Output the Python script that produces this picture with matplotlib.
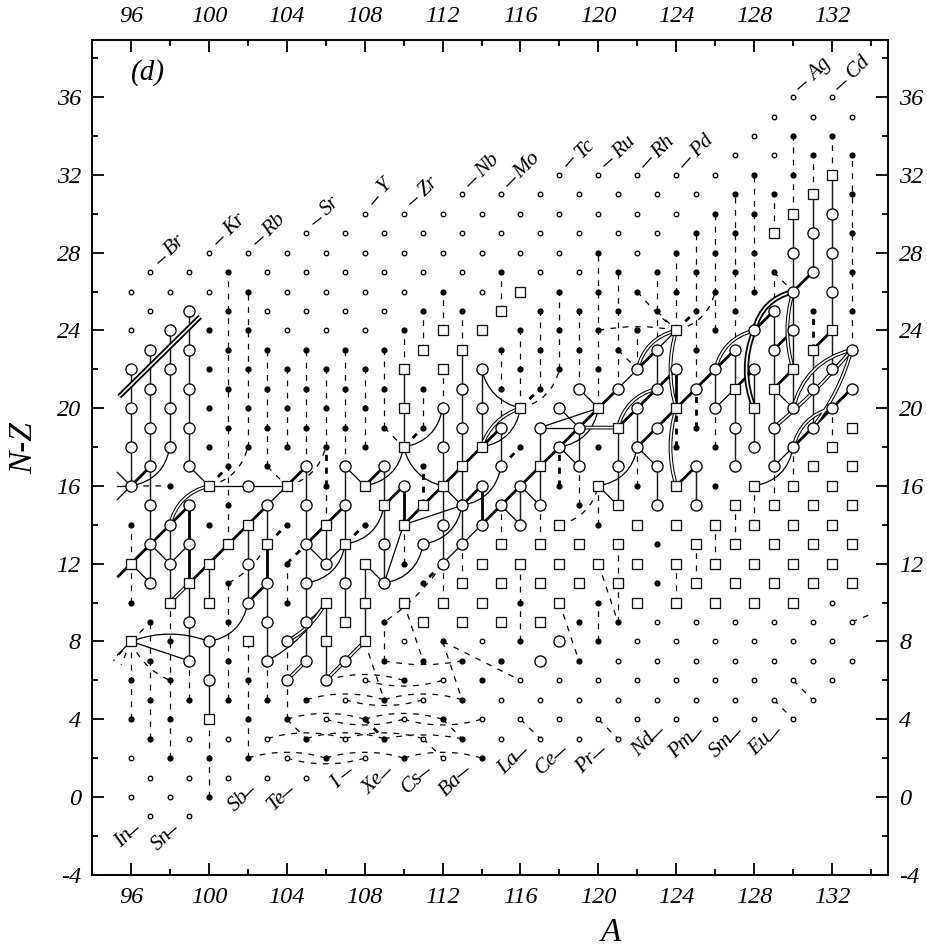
import matplotlib
matplotlib.use("Agg")
import matplotlib.pyplot as plt
from matplotlib.path import Path
from matplotlib.patches import PathPatch
from matplotlib.lines import Line2D

plt.rcParams['font.family'] = ['Liberation Serif', 'DejaVu Serif']
plt.rcParams['axes.unicode_minus'] = False

hollow = {96:[0,2,24,26],97:[-1,1,25,27],98:[0,26],99:[-1,1,3,27],100:[26,28],101:[1,3],102:[28],103:[1,3,25,27],
104:[2,24,26,28],105:[1,25,27,29],106:[4,24,26,28],107:[3,5,25,27,29],108:[2,6,24,26,28,30],109:[25,27,29],
110:[4,8,26,28,30],111:[3,5,27,29],112:[2,6,28,30],113:[27,29,31],114:[4,8,26,28,30],115:[3,5,29,31],116:[4,6,28,30],
117:[3,5,27,29,31],118:[4,6,28,30,32],119:[3,5,27,29,31],120:[4,6,30,32],121:[3,5,7,29,31],122:[4,6,8,28,30,32],
123:[5,7,9,29,31],124:[4,6,8,30,32],125:[5,7,9,31],126:[4,6,8,32],127:[5,7,9,33],128:[4,6,8,34],129:[5,7,9,33,35],
130:[4,6,8,36],131:[5,7,9,35],132:[6,8,10,36],133:[7,9,35]}
filled = {96:[4,6,10,14],97:[3,5,7,9],98:[2,4,6,8,16],99:[5],100:[0,2,14,18,20,22,24],101:[5,7,9,11,15,17,19,21,23,25,27],
102:[2,4,6,18,20,22,24,26],103:[5,17,19,21,23],104:[4,10,12,14,18,20,22],105:[3,5,19,21,23],106:[2,16,18,20,22],
107:[19,21,23],108:[4,14,18,20,22],109:[3,5,7,9,19,21,23],110:[2,6,12,24],111:[7,11,17,19,21,25],112:[4,8,26],
113:[3,5,7,25],114:[2,6],115:[7,21,23,27],116:[8,10,18,22,24],117:[21,23,25],118:[16,22,24,26],119:[7,9,15,23,25],
120:[8,10,14,18,22,24,26,28],121:[9,23,25,27],122:[16,24,26],123:[11,13,25,27],124:[18,26,28],125:[19,23,25,27,29],
126:[16,18,24,26,28,30],127:[25,27,29,31],128:[26,28,30,32],129:[27,31],130:[32,34],131:[25,33],132:[34],133:[25,27,29,31,33]}
squares = {96:[8,12],98:[10],99:[11],100:[4,10,12,16],101:[13],102:[8,14],103:[13],104:[16],106:[8,10,14],107:[9,13],
108:[8,10,12,16],109:[15],110:[10,14,18,20,22],111:[9,15,23],112:[10,16,22,24],113:[9,11,17,23],114:[10,12,18,24],
115:[9,11,13,25],116:[12,20,26],117:[9,11,13,17],118:[10,12,14],119:[11,13],120:[12,16,20],121:[11,13,15,19],
122:[10,12,14],124:[10,12,14,16,20,24],125:[11,13],126:[10,12,14],127:[11,13,15,21],128:[10,12,14,16,20],
129:[11,13,15,21,29],130:[10,12,14,16,22,30],131:[11,13,15,17,23,31],132:[12,14,16,18,24,32],133:[11,13,15,17,19]}
circles = {96:[16,18,20,22],97:[11,13,15,17,19,21,23],98:[12,14,18,20,22,24],99:[7,9,13,15,17,19,21,23,25],100:[6,8],
102:[10,12,16],103:[7,9,11,15],104:[6,8],105:[7,9,11,13,15,17],106:[6,12],107:[7,11,15,17],109:[11,13,17],110:[16],
111:[13],112:[12,14,18,20],113:[13,15,19,21],114:[14,16,20,22],115:[15,17,19],116:[14,16],117:[7,15,19],118:[8,18,20],
119:[17,19,21],121:[17,21],122:[18,20,22],123:[15,17,19,21,23],124:[22],125:[15,17,21],126:[20,22],127:[17,19,23],
128:[18,22,24],129:[17,19,23,25],130:[18,20,24,26,28],131:[19,21,27,29],132:[20,22,26,28,30],133:[21,23]}

solid_columns = [(96,16,22),(97,11,23),(98,18,24),(98,10,14),(99,17,25),(99,7,11),(100,4,8),(100,10,12),(102,10,14),
(103,13,15),(103,7,11),(105,7,17),(106,12,14),(106,6,10),(107,9,17),(108,8,12),(109,11,17),(110,18,22),(112,12,20),
(113,13,23),(114,18,22),(115,17,19),(116,14,16),(117,15,19),(119,17,19),(121,15,19),(122,18,20),(123,15,17),(123,21,23),
(125,15,17),(126,20,22),(127,17,23),(128,18,22),(129,17,25),(130,20,30),(131,19,23),(131,27,31),(132,22,32)]
bold_columns = [(99,11,15),(103,11,13),(110,14,16),(114,14,16),(124,20,22)]
bold_bands = [(95.3,11.3,99,15),(96,16,97,17),(99,11,103,15),(104,16,105,17),(102,10,103,11),(105,13,107,15),(108,16,109,17),
(109,15,110,16),(110,14,115,19),(113,15,114,16),(114,14,121,21),(121,19,124,22),(122,18,127,23),(122,22,123,23),(124,16,125,17),
(127,21,128,22),(128,24,129,25),(129,23,130,24),(129,21,130,22),(130,26,131,27),(131,23,132,24),(130,18,133,21)]
thin_links = [(96,12,97,11),(97,13,98,12),(98,12,99,13),(99,17,100,16),(100,16,104,16),(103,15,104,16),(105,13,106,12),
(106,12,107,13),(107,17,108,16),(108,12,109,11),(112,16,113,15),(110,14,113,15),(110,14,109,11),(112,12,114,14),(115,15,116,14),
(116,16,117,15),(118,18,119,17),(118,20,119,19),(119,21,120,20),(120,16,121,15),(121,21,122,22),(117,19,120,20),(117,19,119,19),
(123,23,124,24),(122,18,123,17),(126,20,127,21),(129,21,130,20),(129,17,130,18),(132,22,133,23),(96,8,99,7),
(96,16,95.3,16.7),(96,16,95.3,15.3),(96,16,95.3,16),(96,8,95.3,7.3)]
thin_arcs = [(96,16,98,18,.35),(100,8,102,10,.35),(96,8,100,8,-.19),(105,11,107,13,.35),(103,7,106,10,.15),(105,9,106,10,.1),
(109,11,111,13,.35),(108,16,110,18,.35),(107,13,109,15,.35),(111,13,113,15,.35),(110,18,112,20,.35),(110,18,112,16,.3),
(114,22,116,20,.3),(114,18,116,20,.35),(113,15,115,17,.35),(118,18,120,20,.35),(120,16,122,18,.35),(128,16,130,18,.35)]
double_arcs = [(98,14,100,16,-.3),(98,10,99,11,0),(104,6,105,7,0),(106,6,108,8,0),(104,8,106,10,.15),(114,18,116,20,-.25),
(119,19,121,19,0),(122,22,124,24,-.3),(121,19,123,21,-.3),(124,20,124,24,-.15),(124,16,124,20,-.15),(126,22,128,24,-.3),
(130,22,130,26,-.15),(130,20,133,23,-.3),(129,19,133,23,.05),(130,18,132,20,-.3),(131,19,133,23,.1)]
heavy_double_arcs = [(128,20,128,24,-.2),(128,24,130,26,-.3),(95.4,20.6,99.55,24.7,0)]
dashed_columns = [(96,12,14),(96,10,12),(96,4,8),(97,3,9),(98,2,8),(98,8,10),(99,5,7),(100,0,4),(101,13,27),(101,5,11),(102,2,8),
(102,18,26),(103,5,7),(103,17,23),(104,4,8),(104,18,22),(104,10,12),(105,17,23),(106,14,16),(106,18,22),(107,17,23),(108,18,22),
(109,19,23),(109,7,9),(110,22,24),(110,12,14),(111,23,25),(111,19,21),(112,20,22),(112,24,26),(112,10,12),(113,23,25),(113,11,13),
(115,25,27),(115,19,23),(115,13,15),(116,20,24),(116,8,12),(117,21,25),(117,13,15),(118,22,26),(119,21,25),(119,15,17),(120,20,28),
(120,14,16),(120,8,10),(121,21,27),(121,9,13),(122,22,24),(122,16,18),(123,23,25),(123,25,27),(124,24,28),(124,10,12),(125,21,23),
(125,23,29),(125,11,13),(126,24,30),(126,18,20),(127,23,31),(127,13,15),(128,26,32),(128,14,16),(129,29,31),(129,25,27),(129,15,17),
(130,30,34),(130,16,18),(131,31,33),(132,32,34),(132,18,20),(133,23,33),(126,12,14)]
bold_dashed_columns = [(106,16,18),(111,15,17),(118,16,18),(124,18,20),(125,19,21),(131,23,25)]
bold_dashed_links = [(100,16,101,17),(103,13,104,14),(104,12,105,13),(107,13,108,14),(110,18,111,19),(112,12,111,11),(115,17,116,18),
(116,20,117,21),(124,24,125,25),(108,4,109,3)]
dashed_arcs = [(96,16,98,16,0),(96,8,97,9,0),(96,8,98,6,.2),(100,16,102,18,.3),(104,16,106,18,.3),(101,11,103,13,.15),(103,17,104,16,0),
(109,19,110,18,0),(116,20,118,22,.3),(112,12,109,9,-.1),(118,14,120,16,.3),(120,24,124,24,-.1),(122,26,124,24,.05),(123,25,124,24,0),
(124,24,126,26,.3),(121,23,122,22,0),(129,27,130,26,0),(110,10,111,7,0),(112,8,113,5,0),(112,8,116,6,0),(118,10,119,7,0),(120,12,121,9,0),
(108,8,109,5,0),(109,7,113,7,.1),(104,4,105,3,0),(112,4,113,3,0),(111,3,112,2,0),(116,4,117,3,0),(120,4,121,3,0),(130,6,131,5,0),
(129,5,130,4,0),(133,9,134,9.4,0),(106,6,110,6,-.15),(108,6,112,6,.15),(105,5,109,5,-.15),(107,5,111,5,.15),(109,5,113,5,-.15),
(104,4,108,4,-.15),(106,4,110,4,.15),(108,4,112,4,-.15),(110,4,114,4,.15),(103,3,107,3,-.15),(105,3,109,3,-.15),(107,3,111,3,-.15),
(109,3,113,3,-.1),(102,2,106,2,-.15),(104,2,108,2,.15),(106,2,110,2,-.15),(110,2,114,2,-.15),(96,8,95.5,6.8,0),(96,8,95.1,7.0,0)]

element_labels = [("Br",175,245,158,263,165,257),("Kr",235,225,216,244,223,237),("Rb",274,225,255,244,263,237),("Sr",330,206,313,224,321,218),
("Y",385,186,372,204,378,197),("Zr",429,187,410,204,417,198),("Nb",488,166,468,186,476,178),("Mo",527,166,507,186,515,178),
("Tc",585,149,566,166,573,158),("Ru",624,147,604,166,612,159),("Rh",663,147,643,167,651,158),("Pd",702,146,682,167,690,158),
("Ag",820,70,798,89,806,82),("Cd",858,67,837,89,846,81),("In",124,838,130,835,138,828),("Sn",162,840,168,835,176,828),
("Sb",239,801,245,797,253,789),("Te",277,801,283,797,292,789),("I",336,783,342,777,351,770),("Xe",374,784,382,778,390,770),
("Cs",413,783,420,777,429,770),("Ba",451,785,458,777,468,769),("La",509,764,516,760,526,750),("Ce",547,763,555,758,565,749),
("Pr",587,763,594,758,604,749),("Nd",644,745,652,740,662,730),("Pm",682,746,692,742,701,731),("Sm",722,746,730,742,740,731),
("Eu",761,744,770,741,779,730)]

x_ticks = list(range(96,133,4))
x_minor = list(range(94,135,2))
y_ticks = list(range(-4,37,4))
y_minor = list(range(-2,39,2))

W, H = 927, 949
fig = plt.figure(figsize=(W/100, H/100), dpi=100)
ax = fig.add_axes([92/W, 1-874.7/H, (888-92)/W, (874.7-40)/H])
ax.set_xlim(94.05, 134.87)
ax.set_ylim(-4, 38.94)

def curve(a1, v1, a2, v2, rad):
    dx, dy = a2-a1, v2-v1
    cx, cy = (a1+a2)/2 + rad*dy, (v1+v2)/2 - rad*dx
    return Path([(a1,v1),(cx,cy),(a2,v2)], [Path.MOVETO, Path.CURVE3, Path.CURVE3])

def add(path, **kw):
    kw.setdefault('color', 'black')
    ax.add_patch(PathPatch(path, fill=False, capstyle='butt', **kw))

THIN, BOLD = 0.9, 2.0
DASH = (0, (4.6, 5.2))
BD = (0, (2.2, 2.4))
for a,lo,hi in dashed_columns:
    ax.plot([a,a],[lo,hi],color='black',lw=0.9,ls=DASH,zorder=2)
for a,lo,hi in bold_dashed_columns:
    ax.plot([a,a],[lo,hi],color='black',lw=2.0,ls=BD,zorder=2)
for a1,v1,a2,v2 in bold_dashed_links:
    ax.plot([a1,a2],[v1,v2],color='black',lw=2.0,ls=BD,zorder=2)
for a1,v1,a2,v2,r in dashed_arcs:
    add(curve(a1,v1,a2,v2,r),lw=0.9,ls=DASH,zorder=2)
for a,lo,hi in solid_columns:
    ax.plot([a,a],[lo,hi],color='#1a1a1a',lw=1.05,zorder=3)
for a,lo,hi in bold_columns:
    ax.plot([a,a],[lo,hi],color='black',lw=BOLD,zorder=3)
for a1,v1,a2,v2 in bold_bands:
    ax.plot([a1,a2],[v1,v2],color='black',lw=BOLD,zorder=3,solid_capstyle='butt')
for a1,v1,a2,v2 in thin_links:
    ax.plot([a1,a2],[v1,v2],color='black',lw=THIN,zorder=3)
for a1,v1,a2,v2,r in thin_arcs:
    add(curve(a1,v1,a2,v2,r),lw=THIN,zorder=3)
for a1,v1,a2,v2,r in double_arcs:
    p = curve(a1,v1,a2,v2,r)
    add(p,lw=2.7,zorder=4)
    add(p,lw=1.2,color='white',zorder=4.1)
for a1,v1,a2,v2,r in heavy_double_arcs:
    p = curve(a1,v1,a2,v2,r)
    add(p,lw=3.8,zorder=4)
    add(p,lw=1.2,color='white',zorder=4.1)

def pts(d):
    xs, ys = [], []
    for a, vals in d.items():
        for v in vals:
            xs.append(a); ys.append(v)
    return xs, ys

x,y = pts(hollow)
ax.plot(x,y,ls='',marker='o',ms=3.3,mfc='white',mec='black',mew=0.95,zorder=5)
x,y = pts(filled)
ax.plot(x,y,ls='',marker='o',ms=4.5,mfc='black',mec='black',mew=0,zorder=5)
x,y = pts(circles)
ax.plot(x,y,ls='',marker='o',ms=8.0,mfc='white',mec='black',mew=0.95,zorder=5)
x,y = pts(squares)
ax.plot(x,y,ls='',marker='s',ms=7.4,mfc='white',mec='#111111',mew=0.95,zorder=5)

for s in ax.spines.values():
    s.set_linewidth(1.4)
ax.set_xticks(x_ticks); ax.set_xticks(x_minor, minor=True)
ax.set_yticks(y_ticks); ax.set_yticks(y_minor, minor=True)
ax.set_xticklabels([str(t) for t in x_ticks])
ax.set_yticklabels([str(t) for t in y_ticks])
ax.tick_params(which='both',direction='in',top=True,right=True,bottom=True,left=True,labeltop=True,labelright=True,width=1.3)
ax.tick_params(which='major',length=8.4,labelsize=17.5,pad=8)
ax.tick_params(which='minor',length=4.2)
ax.tick_params(axis='x',which='major',pad=9)
for lab in ax.get_xticklabels()+ax.get_yticklabels():
    lab.set_fontstyle('italic')

def fx(px): return px/W
def fy(py): return 1-py/H

for name,cx,cy,x1,y1,x2,y2 in element_labels:
    fig.text(fx(cx),fy(cy),name,rotation=45,ha='center',va='center',style='italic',fontsize=15.5,rotation_mode='anchor')
    fig.add_artist(Line2D([fx(x1),fx(x2)],[fy(y1),fy(y2)],color='black',lw=0.9))

fig.text(fx(148),fy(73),"(d)",ha='center',va='center',style='italic',fontsize=21)
fig.text(fx(611),fy(933),"A",ha='center',va='center',style='italic',fontsize=24)
fig.text(fx(24),fy(448),"N-Z",ha='center',va='center',rotation=90,style='italic',fontsize=24)

fig.savefig("out.png",dpi=100)
